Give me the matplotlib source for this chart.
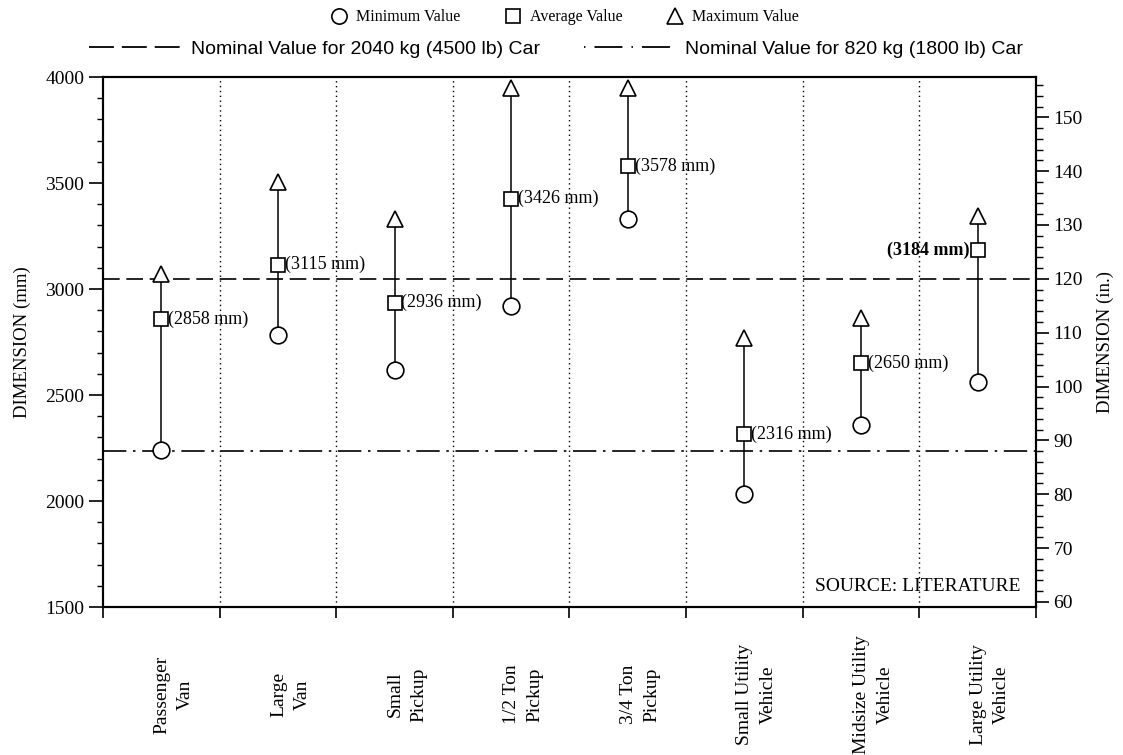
import matplotlib.pyplot as plt
import numpy as np
from matplotlib.lines import Line2D
from matplotlib.ticker import MultipleLocator

# vehicle categories and dimension values (mm)
categories = ['Passenger\nVan', 'Large\nVan', 'Small\nPickup', '1/2 Ton\nPickup',
              '3/4 Ton\nPickup', 'Small Utility\nVehicle', 'Midsize Utility\nVehicle',
              'Large Utility\nVehicle']
min_vals = [2240, 2785, 2620, 2920, 3330, 2035, 2360, 2560]
avg_vals = [2858, 3115, 2936, 3426, 3578, 2316, 2650, 3184]
max_vals = [3070, 3505, 3330, 3950, 3950, 2770, 2865, 3345]

nominal_large = 3048   # 2040 kg (4500 lb) car
nominal_small = 2235   # 820 kg (1800 lb) car

serif = ['Liberation Serif', 'DejaVu Serif']
sans = ['Liberation Sans', 'DejaVu Sans']
plt.rcParams['font.family'] = serif

fig = plt.figure(figsize=(11.23, 7.55), dpi=100)
ax = fig.add_axes([0.0917, 0.196, 0.8308, 0.702])

x = np.arange(len(categories))

# reference lines
ax.axhline(nominal_large, color='k', lw=1.2, ls=(0, (10, 4)))
ax.axhline(nominal_small, color='k', lw=1.2, ls=(0, (14, 4, 1.5, 4)))

# category separators
for b in np.arange(0.5, len(categories) - 0.5):
    ax.axvline(b, color='k', lw=1, ls=(0, (1, 2.5)))

# range lines and markers
ax.vlines(x, min_vals, max_vals, color='k', lw=1.1, zorder=3)
ax.plot(x, min_vals, 'o', ms=12, mfc='white', mec='k', mew=1.2, ls='none', zorder=4)
ax.plot(x, avg_vals, 's', ms=10.5, mfc='white', mec='k', mew=1.2, ls='none', zorder=4)
ax.plot(x, max_vals, '^', ms=12, mfc='white', mec='k', mew=1.2, ls='none', zorder=4)

for i, v in enumerate(avg_vals):
    if i == len(avg_vals) - 1:
        ax.annotate(f'({v} mm)', (x[i], v), xytext=(-6, 0), textcoords='offset points',
                    ha='right', va='center', fontsize=13, fontweight='bold')
    else:
        ax.annotate(f'({v} mm)', (x[i], v), xytext=(5, 0), textcoords='offset points',
                    ha='left', va='center', fontsize=13)

ax.set_xlim(-0.5, len(categories) - 0.5)
ax.set_ylim(1500, 4000)
ax.set_xticks(np.arange(-0.5, len(categories)))
ax.set_xticklabels([])
ax.tick_params(axis='x', direction='out', length=8, width=1.2)
for i, lab in enumerate(categories):
    ax.text(x[i] + 0.105, -0.165, lab, transform=ax.get_xaxis_transform(), rotation=90,
            ha='center', va='center', multialignment='center', fontsize=14,
            linespacing=1.5)

ax.yaxis.set_major_locator(MultipleLocator(500))
ax.yaxis.set_minor_locator(MultipleLocator(100))
ax.tick_params(axis='y', which='major', direction='out', length=10, width=1.2, labelsize=14)
ax.tick_params(axis='y', which='minor', direction='out', length=4, width=1)
ax.set_ylabel('DIMENSION (mm)', fontsize=13.5, labelpad=10)

ax2 = ax.twinx()
ax2.set_ylim(1500 / 25.4, 4000 / 25.4)
ax2.yaxis.set_major_locator(MultipleLocator(10))
ax2.yaxis.set_minor_locator(MultipleLocator(2))
ax2.tick_params(axis='y', which='major', direction='out', length=9, width=1.2, labelsize=14)
ax2.tick_params(axis='y', which='minor', direction='out', length=5, width=1)
ax2.set_ylabel('DIMENSION (in.)', fontsize=13.5, labelpad=10)

for a in (ax, ax2):
    for s in a.spines.values():
        s.set_linewidth(1.5)

ax.text(0.983, 0.038, 'SOURCE: LITERATURE', transform=ax.transAxes,
        ha='right', va='center', fontsize=14)

# legends
marker_handles = [
    Line2D([], [], marker='o', ls='none', ms=11, mfc='white', mec='k', mew=1.2),
    Line2D([], [], marker='s', ls='none', ms=10, mfc='white', mec='k', mew=1.2),
    Line2D([], [], marker='^', ls='none', ms=11, mfc='white', mec='k', mew=1.2),
]
leg1 = fig.legend(marker_handles, ['Minimum Value', 'Average Value', 'Maximum Value'],
                  ncol=3, loc='center', bbox_to_anchor=(0.503, 0.977), frameon=False,
                  prop={'family': serif, 'size': 11.5}, handlelength=1.0,
                  handletextpad=0.6, columnspacing=2.75)

line_handles = [
    Line2D([], [], color='k', lw=1.3, ls=(0, (13.8, 4.4))),
    Line2D([], [], color='k', lw=1.3, ls=(0, (0.8, 5, 15.5, 5))),
]
leg2 = fig.legend(line_handles, ['Nominal Value for 2040 kg (4500 lb) Car',
                                 'Nominal Value for 820 kg (1800 lb) Car'],
                  ncol=2, loc='center', bbox_to_anchor=(0.4955, 0.935), frameon=False,
                  prop={'family': sans, 'size': 14}, handlelength=4.7,
                  handletextpad=0.5, columnspacing=2.3)

fig.savefig('out.png', dpi=100)
